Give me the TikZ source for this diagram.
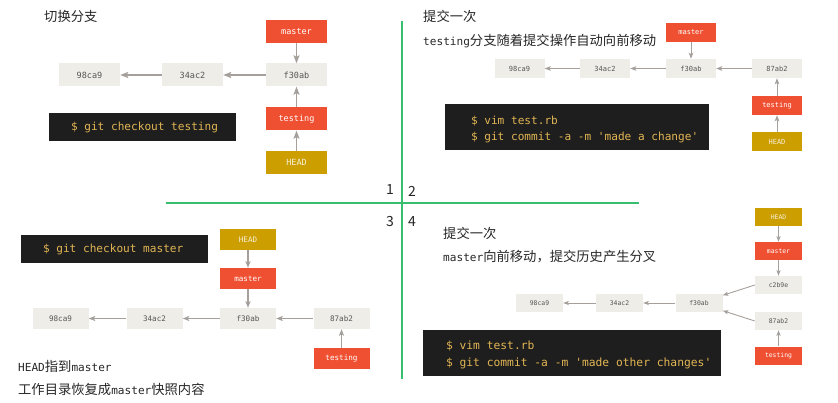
\documentclass[tikz,border=0pt]{standalone}
\usepackage{fontspec}
\setmainfont{Noto Sans CJK SC}
\setmonofont{DejaVu Sans Mono}
\usetikzlibrary{arrows.meta}

\definecolor{gitred}{RGB}{240,80,50}
\definecolor{gitgrey}{RGB}{238,237,231}
\definecolor{headgold}{RGB}{204,158,0}
\definecolor{cmdbg}{RGB}{30,30,30}
\definecolor{cmdfg}{RGB}{226,182,84}
\definecolor{ptrgrey}{RGB}{165,160,155}
\definecolor{sepgreen}{RGB}{55,190,110}
\definecolor{hashfg}{RGB}{85,85,85}

\newcommand{\gitword}[1]{{\ttfamily\fontsize{11.1}{16}\selectfont #1}}

\tikzset{
  gitbox/.style={minimum width=61pt, minimum height=23pt, inner sep=0pt},
  commit/.style={gitbox, fill=gitgrey, text=hashfg},
  branchref/.style={gitbox, fill=gitred, text=white},
  headref/.style={gitbox, fill=headgold, text=white!85!headgold},
  ptr/.style={draw=ptrgrey, line width=1.2pt, -{Stealth[length=7pt,width=5pt,inset=1.5pt]}},
  cmdbox/.style={fill=cmdbg, inner sep=0pt},
  cmdtxt/.style={text=cmdfg, font=\ttfamily\fontsize{11.1}{16}\selectfont, align=left, inner sep=0pt, anchor=west},
  heading/.style={anchor=west, inner sep=0pt, text=black!85, font=\fontsize{13.3}{16}\selectfont},
  quadnum/.style={inner sep=0pt, text=black!85, font=\fontsize{14}{16}\selectfont},
  divider/.style={draw=sepgreen, line width=2pt}
}

\begin{document}
\begin{tikzpicture}[x=1pt, y=-1pt]
\useasboundingbox (0,0) rectangle (838,403);

%%%%dividers
\draw[divider] (402,21) -- (402,379);
\draw[divider] (166,203) -- (639,203);
\node[quadnum] (n1) at (390,190) {1};
\node[quadnum] (n2) at (412,191) {2};
\node[quadnum] (n3) at (390,222) {3};
\node[quadnum] (n4) at (412,222) {4};

%%%%panel 1: checkout testing
\begin{scope}[gitbox/.style={minimum width=61pt, minimum height=23pt, inner sep=0pt,
    font=\ttfamily\fontsize{8.5}{10}\selectfont},
  ptr/.style={draw=ptrgrey, line width=1.3pt, -{Stealth[length=8pt,width=6pt,inset=1.5pt]}}]
\node[heading] (p1title) at (44,16) {切换分支};
\node[commit] (p1c98) at (89.5,75) {98ca9};
\node[commit] (p1c34) at (192.5,75) {34ac2};
\node[commit] (p1cf3) at (296.5,75) {f30ab};
\node[branchref] (p1master) at (296.5,31.5) {master};
\node[branchref] (p1testing) at (296.5,119) {testing};
\node[headref] (p1head) at (296.5,162.5) {HEAD};
\draw[ptr] (p1master) -- (p1cf3);
\draw[ptr] (p1cf3) -- (p1c34);
\draw[ptr] (p1c34) -- (p1c98);
\draw[ptr] (p1testing) -- (p1cf3);
\draw[ptr] (p1head) -- (p1testing);
\node[cmdbox, minimum width=187pt, minimum height=28pt] (p1cmd) at (142.5,127) {};
\node[cmdtxt] (p1cmdtxt) at ([xshift=22pt]p1cmd.west) {\$ git checkout testing};
\end{scope}

%%%%panel 2: commit on testing
\begin{scope}[gitbox/.style={minimum width=50pt, minimum height=19pt, inner sep=0pt,
    font=\ttfamily\fontsize{7}{8}\selectfont},
  ptr/.style={draw=ptrgrey, line width=1pt, -{Stealth[length=6pt,width=4.5pt,inset=1.2pt]}}]
\node[heading] (p2title) at (423,16) {提交一次};
\node[heading] (p2note) at (423,41) {\gitword{testing}分支随着提交操作自动向前移动};
\node[commit] (p2c98) at (519.5,68.5) {98ca9};
\node[commit] (p2c34) at (605,68.5) {34ac2};
\node[commit] (p2cf3) at (691,68.5) {f30ab};
\node[commit] (p2c87) at (777,68.5) {87ab2};
\node[branchref] (p2master) at (691,32.5) {master};
\node[branchref] (p2testing) at (777,105.5) {testing};
\node[headref] (p2head) at (777,141.5) {HEAD};
\draw[ptr] (p2master) -- (p2cf3);
\draw[ptr] (p2c87) -- (p2cf3);
\draw[ptr] (p2cf3) -- (p2c34);
\draw[ptr] (p2c34) -- (p2c98);
\draw[ptr] (p2testing) -- (p2c87);
\draw[ptr] (p2head) -- (p2testing);
\node[cmdbox, minimum width=264pt, minimum height=46pt] (p2cmd) at (577,127) {};
\node[cmdtxt] (p2cmdtxt) at ([xshift=26pt,yshift=-2pt]p2cmd.west)
  {\$ vim test.rb\\\$ git commit -a -m 'made a change'};
\end{scope}

%%%%panel 3: checkout master
\begin{scope}[gitbox/.style={minimum width=56pt, minimum height=21pt, inner sep=0pt,
    font=\ttfamily\fontsize{7.6}{9}\selectfont},
  ptr/.style={draw=ptrgrey, line width=1.1pt, -{Stealth[length=6.5pt,width=5pt,inset=1.3pt]}}]
\node[cmdbox, minimum width=187pt, minimum height=28pt] (p3cmd) at (114.5,249) {};
\node[cmdtxt] (p3cmdtxt) at ([xshift=22pt]p3cmd.west) {\$ git checkout master};
\node[headref] (p3head) at (248,239.5) {HEAD};
\node[branchref] (p3master) at (248,278.5) {master};
\node[commit] (p3cf3) at (248,318.5) {f30ab};
\node[commit] (p3c34) at (154.5,318.5) {34ac2};
\node[commit] (p3c98) at (60.5,318.5) {98ca9};
\node[commit] (p3c87) at (341.5,318.5) {87ab2};
\node[branchref] (p3testing) at (341.5,358.5) {testing};
\draw[ptr] (p3head) -- (p3master);
\draw[ptr] (p3master) -- (p3cf3);
\draw[ptr] (p3cf3) -- (p3c34);
\draw[ptr] (p3c34) -- (p3c98);
\draw[ptr] (p3c87) -- (p3cf3);
\draw[ptr] (p3testing) -- (p3c87);
\node[heading] (p3note) at (18,366) {\gitword{HEAD}指到\gitword{master}};
\node[heading] (p3note2) at (18,389) {工作目录恢复成\gitword{master}快照内容};
\end{scope}

%%%%panel 4: commit on master, history forks
\begin{scope}[gitbox/.style={minimum width=47pt, minimum height=18pt, inner sep=0pt,
    font=\ttfamily\fontsize{6.4}{8}\selectfont},
  ptr/.style={draw=ptrgrey, line width=0.9pt, -{Stealth[length=5.5pt,width=4pt,inset=1pt]}}]
\node[heading] (p4title) at (443,233) {提交一次};
\node[heading] (p4note) at (443,257) {\gitword{master}向前移动，提交历史产生分叉};
\node[headref] (p4head) at (778.5,217) {HEAD};
\node[branchref] (p4master) at (778.5,251) {master};
\node[commit] (p4cc2) at (778.5,285) {c2b9e};
\node[commit] (p4c87) at (778.5,321) {87ab2};
\node[branchref] (p4testing) at (778.5,355.5) {testing};
\node[commit] (p4cf3) at (699,303) {f30ab};
\node[commit] (p4c34) at (619.5,303) {34ac2};
\node[commit] (p4c98) at (539.5,303) {98ca9};
\draw[ptr] (p4head) -- (p4master);
\draw[ptr] (p4master) -- (p4cc2);
\draw[ptr] (p4cc2.west) -- (p4cf3);
\draw[ptr] (p4c87.west) -- (p4cf3);
\draw[ptr] (p4testing) -- (p4c87);
\draw[ptr] (p4cf3) -- (p4c34);
\draw[ptr] (p4c34) -- (p4c98);
\node[cmdbox, minimum width=298pt, minimum height=46pt] (p4cmd) at (572,353) {};
\node[cmdtxt, font=\ttfamily\fontsize{11.3}{17}\selectfont] (p4cmdtxt) at ([xshift=23pt,yshift=-1.5pt]p4cmd.west)
  {\$ vim test.rb\\\$ git commit -a -m 'made other changes'};
\end{scope}

\end{tikzpicture}
\end{document}
